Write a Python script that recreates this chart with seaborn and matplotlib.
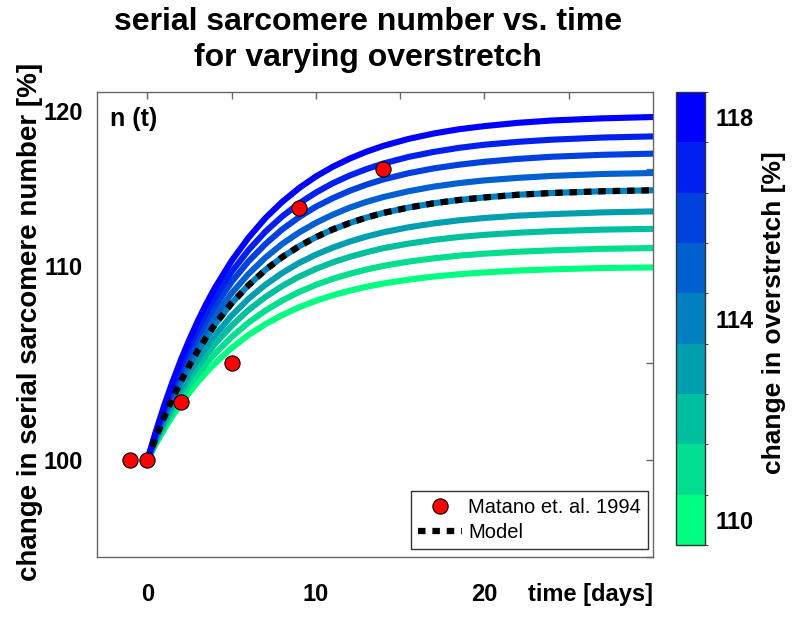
import numpy as np
import pandas as pd
import matplotlib
matplotlib.use("Agg")
import matplotlib.pyplot as plt
import seaborn as sns
from matplotlib.colors import ListedColormap, BoundaryNorm
from matplotlib.cm import ScalarMappable
from matplotlib.lines import Line2D

time_days = [0, 0.5, 1, 1.5, 2, 2.5, 3, 3.5, 4, 5, 6, 7, 8, 9, 10, 11, 12, 13,
             14, 15.5, 17, 18.5, 20, 22, 24, 27, 30]

# overstretch levels [%] shown in the colorbar
overstretch = [110, 111, 112, 113, 114, 115, 116, 117, 118]

# serial sarcomere number [%] for each overstretch level
n_110 = [100, 100.83, 101.58, 102.28, 102.92, 103.50, 104.04, 104.53, 104.98, 105.78, 106.45, 107.01, 107.48, 107.88, 108.22, 108.50, 108.74, 108.94, 109.11, 109.31, 109.47, 109.59, 109.68, 109.78, 109.84, 109.91, 109.94]
n_111 = [100, 100.91, 101.74, 102.51, 103.21, 103.85, 104.44, 104.98, 105.48, 106.35, 107.09, 107.71, 108.23, 108.67, 109.04, 109.35, 109.61, 109.83, 110.02, 110.24, 110.41, 110.55, 110.65, 110.75, 110.82, 110.90, 110.94]
n_112 = [100, 100.99, 101.90, 102.73, 103.50, 104.20, 104.85, 105.44, 105.98, 106.93, 107.74, 108.41, 108.98, 109.46, 109.86, 110.20, 110.48, 110.72, 110.93, 111.17, 111.36, 111.51, 111.62, 111.73, 111.81, 111.89, 111.93]
n_113 = [100, 101.07, 102.04, 102.94, 103.76, 104.52, 105.21, 105.84, 106.43, 107.45, 108.32, 109.04, 109.65, 110.17, 110.60, 110.96, 111.27, 111.53, 111.75, 112.01, 112.21, 112.37, 112.49, 112.61, 112.69, 112.78, 112.83]
n_114 = [100, 101.16, 102.22, 103.19, 104.08, 104.90, 105.65, 106.34, 106.98, 108.09, 109.02, 109.81, 110.47, 111.03, 111.50, 111.90, 112.23, 112.51, 112.75, 113.03, 113.25, 113.42, 113.55, 113.69, 113.78, 113.87, 113.92]
n_115 = [100, 101.23, 102.36, 103.39, 104.35, 105.22, 106.02, 106.75, 107.42, 108.61, 109.60, 110.44, 111.15, 111.74, 112.24, 112.66, 113.02, 113.32, 113.57, 113.87, 114.11, 114.29, 114.43, 114.56, 114.66, 114.76, 114.81]
n_116 = [100, 101.31, 102.52, 103.62, 104.64, 105.57, 106.42, 107.20, 107.92, 109.19, 110.25, 111.14, 111.90, 112.53, 113.07, 113.51, 113.89, 114.21, 114.48, 114.80, 115.05, 115.24, 115.39, 115.54, 115.65, 115.75, 115.81]
n_117 = [100, 101.39, 102.66, 103.83, 104.90, 105.88, 106.78, 107.61, 108.37, 109.71, 110.83, 111.78, 112.57, 113.24, 113.80, 114.28, 114.68, 115.01, 115.30, 115.64, 115.90, 116.11, 116.27, 116.42, 116.53, 116.64, 116.70]
n_118 = [100, 101.47, 102.82, 104.05, 105.19, 106.23, 107.19, 108.07, 108.87, 110.28, 111.47, 112.48, 113.32, 114.03, 114.63, 115.13, 115.55, 115.91, 116.21, 116.57, 116.85, 117.07, 117.23, 117.40, 117.52, 117.63, 117.70]

# model curve (black dashed)
model_n = [100, 101.16, 102.22, 103.19, 104.08, 104.90, 105.65, 106.34, 106.98, 108.09, 109.02, 109.81, 110.47, 111.03, 111.50, 111.90, 112.23, 112.51, 112.75, 113.03, 113.25, 113.42, 113.55, 113.69, 113.78, 113.87, 113.92]

# experimental data, Matano et al. 1994
matano_t = [-1, 0, 2, 5, 9, 14]
matano_n = [100, 100, 103, 105, 113, 115]

curve_colors = ["#00ff80", "#00df8f", "#00bf9f", "#009faf", "#0080bf",
                "#0060cf", "#0040df", "#0020ef", "#0000ff"]

all_curves = [n_110, n_111, n_112, n_113, n_114, n_115, n_116, n_117, n_118]
rows = []
for lvl, vals in zip(overstretch, all_curves):
    for t, v in zip(time_days, vals):
        rows.append({"t": t, "n": v, "overstretch": lvl})
df = pd.DataFrame(rows)

sns.set_style("white")
plt.rcParams["font.family"] = ["Liberation Sans", "DejaVu Sans"]
plt.rcParams["font.weight"] = "bold"
plt.rcParams["text.color"] = "black"
plt.rcParams["axes.labelcolor"] = "black"

fig = plt.figure(figsize=(8, 6.17), dpi=100)
ax = fig.add_axes([0.121, 0.0972, 0.695, 0.754])

palette = dict(zip(overstretch, curve_colors))
sns.lineplot(data=df, x="t", y="n", hue="overstretch", palette=palette,
             linewidth=4.4, legend=False, estimator=None, sort=False, ax=ax)
sns.lineplot(x=time_days, y=model_n, color="black", linewidth=4.5,
             linestyle=(0, (1.2, 1.1)), ax=ax, zorder=4)
sns.scatterplot(x=matano_t, y=matano_n, color="red", edgecolor="black",
                linewidth=0.8, s=120, ax=ax, zorder=5)

ax.set_xlim(-3, 30)
ax.set_ylim(95, 119)
ax.set_xticks([0, 5, 10, 15, 20, 25])
ax.set_xticklabels(["0", "", "10", "", "20", ""])
ax.set_yticks([95, 100, 105, 110, 115])
ax.set_yticklabels(["", "100", "", "110", ""])
ax.set_xlabel("")
ax.set_ylabel("")
ax.tick_params(direction="in", length=5, width=1, color="#666666",
               labelcolor="black", top=True, right=True, labelsize=17)
ax.tick_params(axis="x", pad=19)
ax.tick_params(axis="y", pad=10)
for sp in ax.spines.values():
    sp.set_color("#666666")
    sp.set_linewidth(1)

ax.annotate("120", xy=(0, 117.9), xycoords=("axes fraction", "data"),
            xytext=(-10, 0), textcoords="offset points", ha="right",
            va="center", fontsize=17, fontweight="bold")
ax.annotate("time [days]", xy=(1, 0), xycoords="axes fraction",
            xytext=(0, -19), textcoords="offset points", ha="right",
            va="top", fontsize=17, fontweight="bold")
ax.text(0.023, 0.942, "n (t)", transform=ax.transAxes, fontsize=18,
        fontweight="bold", va="center", ha="left")

handles = [Line2D([], [], marker="o", color="none", markerfacecolor="red",
                  markeredgecolor="black", markersize=11, markeredgewidth=0.8),
           Line2D([], [], color="black", linewidth=4.5, linestyle=(0, (1.2, 1.1)))]
leg = ax.legend(handles, ["Matano et. al. 1994", "Model"], loc="lower right",
                bbox_to_anchor=(0.992, 0.018), borderaxespad=0,
                prop={"size": 14.5, "weight": "normal"}, frameon=True,
                fancybox=False, framealpha=1, edgecolor="#333333",
                handlelength=2.2, handletextpad=0.3, borderpad=0.35,
                labelspacing=0.3)
leg.get_frame().set_linewidth(1)
for txt in leg.get_texts():
    txt.set_color("black")

fig.text(0.46, 1 - 40 / 617, "serial sarcomere number vs. time\nfor varying overstretch",
         ha="center", va="center", fontsize=23, fontweight="bold", linespacing=1.22)
fig.text(30 / 800, 1 - 322 / 617, "change in serial sarcomere number [%]",
         rotation=90, ha="center", va="center", fontsize=20, fontweight="bold")

# discrete colorbar
cax = fig.add_axes([0.845, 0.1167, 0.036, 0.734])
cmap = ListedColormap(curve_colors)
norm = BoundaryNorm(np.arange(109.5, 119.5, 1), cmap.N)
cb = fig.colorbar(ScalarMappable(norm=norm, cmap=cmap), cax=cax,
                  ticks=[110, 112, 114, 116, 118])
cb.ax.set_yticklabels(["110", "", "114", "", "118"])
cb.ax.tick_params(direction="in", length=5, left=True, right=False,
                  labelright=True, labelsize=17, pad=8, labelcolor="black",
                  color="#333333")
cb.outline.set_edgecolor("#333333")
cb.outline.set_linewidth(1)
fig.text(0.968, 1 - 313 / 617, "change in overstretch [%]", rotation=90,
         ha="center", va="center", fontsize=19, fontweight="bold")

fig.savefig("out.png", dpi=100)
